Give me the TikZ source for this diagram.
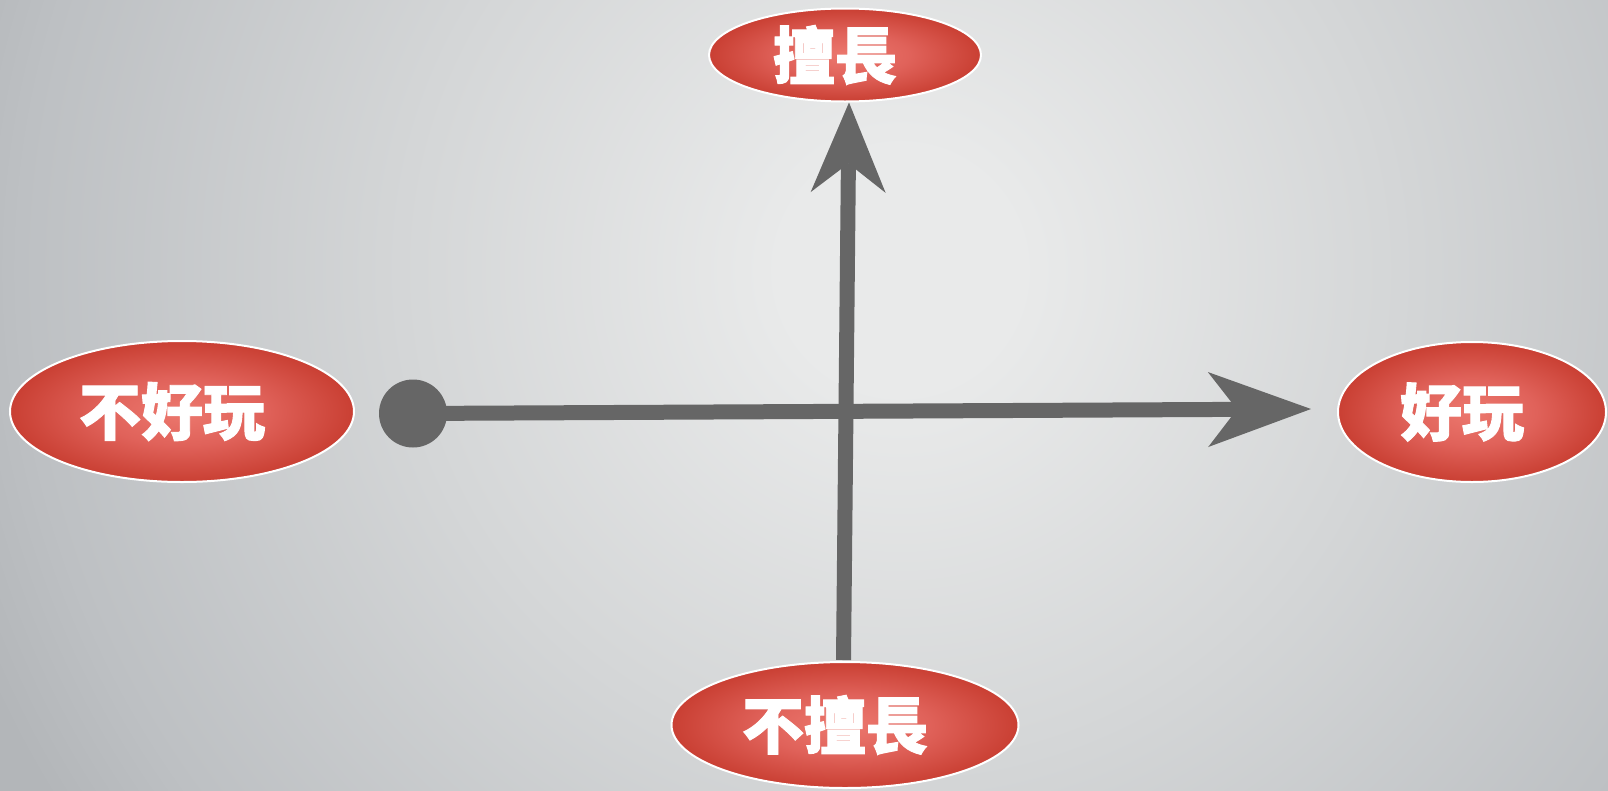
\documentclass[tikz,border=0pt]{standalone}
\usepackage{fontspec}
\newfontfamily\cjk{Noto Sans CJK TC}[BoldFeatures={FakeBold=1.5}]
\usetikzlibrary{shapes.geometric,arrows.meta}
\definecolor{bgin}{HTML}{E9EAEA}
\definecolor{bgmid}{HTML}{D4D6D7}
\definecolor{bgmid2}{HTML}{BDC0C3}
\definecolor{bgout}{HTML}{B3B6B9}
\definecolor{elin}{HTML}{EC786E}
\definecolor{elmid}{HTML}{E0625A}
\definecolor{elmid2}{HTML}{CB4236}
\definecolor{elout}{HTML}{C02E26}
\definecolor{axisgray}{HTML}{666666}
\pgfdeclareradialshading{bgshade}{\pgfpoint{0bp}{0bp}}{color(0bp)=(bgin); color(3bp)=(bgin); color(12.5bp)=(bgmid); color(22bp)=(bgmid2); color(25bp)=(bgout); color(50bp)=(bgout)}
\pgfdeclareradialshading{ellshade}{\pgfpoint{0bp}{0bp}}{color(0bp)=(elin); color(12bp)=(elmid); color(24bp)=(elmid2); color(30bp)=(elout); color(50bp)=(elout)}
\newcommand\myTxtKern{\kern-20pt}
\begin{document}
\begin{tikzpicture}[x=1pt,y=-1pt,
  ell/.style={ellipse, draw=white, line width=2pt, shading=ellshade, inner sep=0pt, text=white,
    font=\cjk\bfseries\fontsize{62}{62}\selectfont},
  axis/.style={draw=axisgray, line width=15pt},
  dotnode/.style={circle, fill=axisgray, minimum size=68pt, inner sep=0pt}]
\useasboundingbox (0,0) rectangle (1608,790);
\fill[bgout] (-2,-2) rectangle (1610,792);
\begin{scope}
  \clip (0,0) rectangle (1608,790);
  \shade[shading=bgshade] (900,270) circle[radius=1000];
\end{scope}
\node[ell, minimum width=272pt, minimum height=93pt] (skill) at (845,55) {\myTxtKern 擅長};
\node[ell, minimum width=347pt, minimum height=126pt] (noskill) at (845,725) {\myTxtKern 不擅長};
\node[ell, minimum width=344pt, minimum height=141pt] (bad) at (182,411.5) {\myTxtKern 不好玩};
\node[ell, minimum width=268pt, minimum height=140pt] (good) at (1472,412) {\myTxtKern 好玩};
\node[dotnode] (dot) at (413,413.5) {};
\draw[axis, -{Stealth[length=103pt,width=75pt,inset=29pt,line width=0pt]}]
  (dot.center) -- ([shift={(-26pt,3pt)}]good.west);
\draw[axis, shorten <=1pt, -{Stealth[length=90pt,width=75pt,inset=29pt,line width=0pt]}]
  ([xshift=-1.5pt]noskill.north) -- ([xshift=4pt]skill.south);
\end{tikzpicture}
\end{document}
